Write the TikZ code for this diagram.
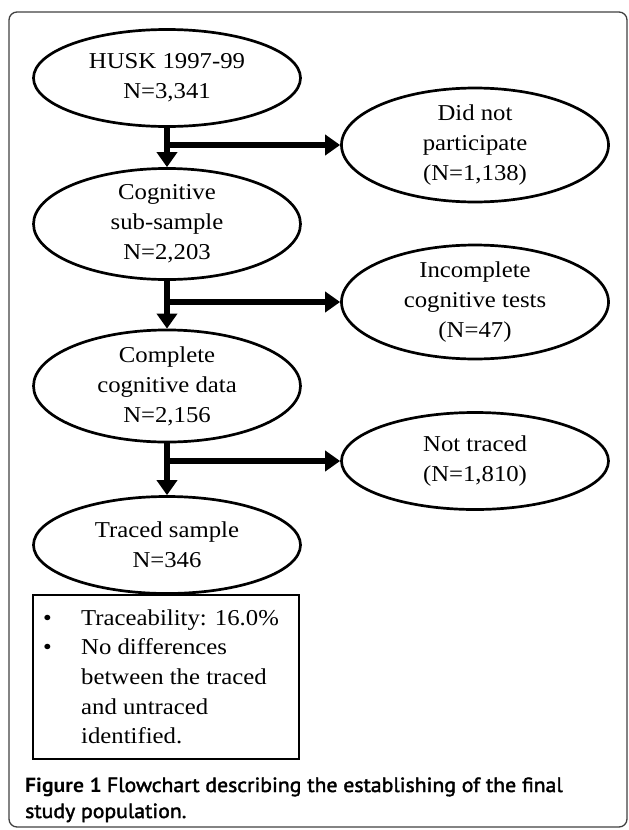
\documentclass[tikz,border=0pt]{standalone}
\usepackage{fontspec}
\setmainfont{Liberation Serif}
\newfontfamily\ellfont[FakeStretch=1.09]{Liberation Serif}
\newfontfamily\capbold[FakeStretch=1.06]{PT Sans}
\newfontfamily\capsemi[FakeStretch=1.06, FakeBold=2]{PT Sans}
\usetikzlibrary{shapes.geometric,arrows.meta}
\begin{document}
\begin{tikzpicture}[x=1pt,y=-1pt,
  oval/.style={draw, ellipse, line width=2.7pt, minimum width=267pt, minimum height=97pt, inner sep=0pt, align=center, font=\ellfont\fontsize{22.7}{30}\selectfont},
  flow/.style={line width=6pt, -{Triangle[width=20pt,length=15pt]}},
  captext/.style={anchor=base west, inner sep=0pt, font=\fontsize{20.5}{26}\selectfont},
]
\useasboundingbox (0,0) rectangle (629,830);
\draw[rounded corners=8pt, line width=1.3pt, black!75] (9,12) rectangle (627,827);
% left column
\node[oval] (husk) at (167,78) {HUSK 1997-99\\N=3,341};
\node[oval] (cog) at (167,224) {Cognitive\\sub-sample\\N=2,203};
\node[oval] (comp) at (167,386) {Complete\\cognitive data\\N=2,156};
\node[oval] (trac) at (167,545) {Traced sample\\N=346};
% right column
\node[oval] (dnp) at (475,145) {Did not\\participate\\(N=1,138)};
\node[oval] (inc) at (475,302) {Incomplete\\cognitive tests\\(N=47)};
\node[oval] (not) at (475,461) {Not traced\\(N=1,810)};
% arrows
\coordinate (b1) at (husk.south |- dnp.west);
\draw[flow] (husk.south) -- (cog.north);
\draw[flow] (b1) -- (dnp.west);
\coordinate (b2) at (cog.south |- inc.west);
\draw[flow] (cog.south) -- (comp.north);
\draw[flow] (b2) -- (inc.west);
\coordinate (b3) at (comp.south |- not.west);
\draw[flow] (comp.south) -- (trac.north);
\draw[flow] (b3) -- (not.west);
% box
\node[draw, line width=2.8pt, minimum width=266pt, minimum height=164pt, inner sep=0pt] (box) at (166,677) {};
\node[anchor=base west, align=left, font=\ellfont\fontsize{22.7}{29.7}\selectfont, inner sep=0pt] (btxt) at (43,625) {%
\begin{tabular}[t]{@{}p{38pt}@{}l@{}}
\textbullet & Traceability: 16.0\%\\
\textbullet & No differences\\
 & between the traced\\
 & and untraced\\
 & identified.
\end{tabular}};
% caption
\node[captext] (cap1) at (25,792) {{\capbold\bfseries Figure 1} {\capsemi Flowchart describing the establishing of the final}};
\node[captext] (cap2) at (25,818) {\capsemi study population.};
\end{tikzpicture}
\end{document}
